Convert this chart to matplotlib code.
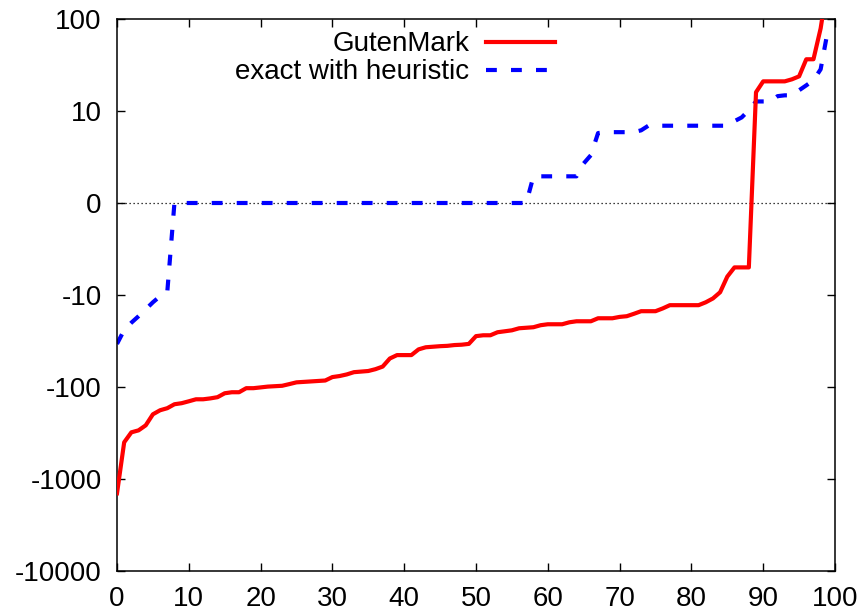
import numpy as np
import matplotlib
matplotlib.use("Agg")
import matplotlib.pyplot as plt
from matplotlib.ticker import NullLocator

plt.rcParams['font.family'] = ['Liberation Sans', 'DejaVu Sans']

# data (x = 0..99)
x = np.arange(100)

gutenmark = [-1430, -399, -311, -296, -261, -198, -179, -170, -154, -150,
             -143, -136, -136, -133, -129, -117, -114, -114, -103, -103,
             -101, -99, -98, -97, -93, -89, -88, -87, -86, -85,
             -78, -76, -73, -69, -68, -67, -64, -60, -49, -45,
             -45, -45, -39, -37, -36.5, -36, -35.7, -35, -34.7, -34,
             -28, -27.4, -27.4, -25.4, -24.8, -24.2, -23, -22.7, -22.4, -21.3,
             -20.8, -20.8, -20.8, -19.8, -19.3, -19.3, -19.3, -17.9, -17.9, -17.9,
             -17.3, -17.0, -16.0, -15.0, -15.0, -15.0, -14.0, -12.9, -12.9, -12.9,
             -12.9, -12.9, -12.0, -10.9, -9.7, -8.0, -7.0, -7.0, -7.0, 16.0,
             21.0, 21.0, 21.0, 21.0, 22.1, 23.8, 36.5, 36.5, 79, 250]

heuristic = [-34, -24, -20, -17, -14.3, -12, -10.3, -9.7, 0, 0,
             0, 0, 0, 0, 0, 0, 0, 0, 0, 0,
             0, 0, 0, 0, 0, 0, 0, 0, 0, 0,
             0, 0, 0, 0, 0, 0, 0, 0, 0, 0,
             0, 0, 0, 0, 0, 0, 0, 0, 0, 0,
             0, 0, 0, 0, 0, 0, 0, 0, 2.9, 2.9,
             2.9, 2.9, 2.9, 2.9, 2.9, 4.3, 5.2, 7.6, 7.7, 7.7,
             7.7, 7.7, 7.7, 7.9, 8.4, 8.4, 8.4, 8.4, 8.4, 8.4,
             8.4, 8.4, 8.4, 8.4, 8.4, 8.4, 8.9, 9.3, 10.2, 12.7,
             12.7, 12.7, 14.5, 14.8, 14.8, 16.8, 19.0, 21.6, 28.4, 75]

yticks = [-10000, -1000, -100, -10, 0, 10, 100]
ytick_labels = ["-10000", "-1000", "-100", "-10", "0", "10", "100"]
xticks = [0, 10, 20, 30, 40, 50, 60, 70, 80, 90, 100]

fig = plt.figure(figsize=(8.65, 6.12), dpi=100)
ax = fig.add_axes([117/865, 1 - 571/612, (835-117)/865, (571-19)/612])

# symlog with the linear part (0..10) as long as one decade
ax.set_yscale('symlog', linthresh=10, linscale=0.9)

ax.axhline(0, color='black', lw=0.9, ls=(0, (1, 2.2)), zorder=1)
ax.plot(x, gutenmark, color='#ff0000', lw=3.0, label='GutenMark', zorder=3)
ax.plot(x, heuristic, color='#0000ff', lw=3.0, dashes=(2.6, 3.4),
        dash_capstyle='butt', label='exact with heuristic', zorder=2)

ax.set_xlim(0, 100)
ax.set_ylim(-10000, 100)
ax.set_xticks(xticks)
ax.set_xticklabels([str(t) for t in xticks])
ax.set_yticks(yticks)
ax.set_yticklabels(ytick_labels)
ax.yaxis.set_minor_locator(NullLocator())
ax.xaxis.set_minor_locator(NullLocator())

ax.tick_params(direction='in', length=6, width=1, labelsize=20,
               top=True, right=True, color='black')
ax.tick_params(axis='x', pad=11)
ax.tick_params(axis='y', pad=11)
for s in ax.spines.values():
    s.set_linewidth(1.1)

ax.legend(loc='upper right', bbox_to_anchor=(0.63, 1.003), frameon=False,
          markerfirst=False, fontsize=20, handlelength=2.5,
          handletextpad=0.6, labelspacing=0.08, borderpad=0.0)

fig.savefig("out.png", dpi=100)
